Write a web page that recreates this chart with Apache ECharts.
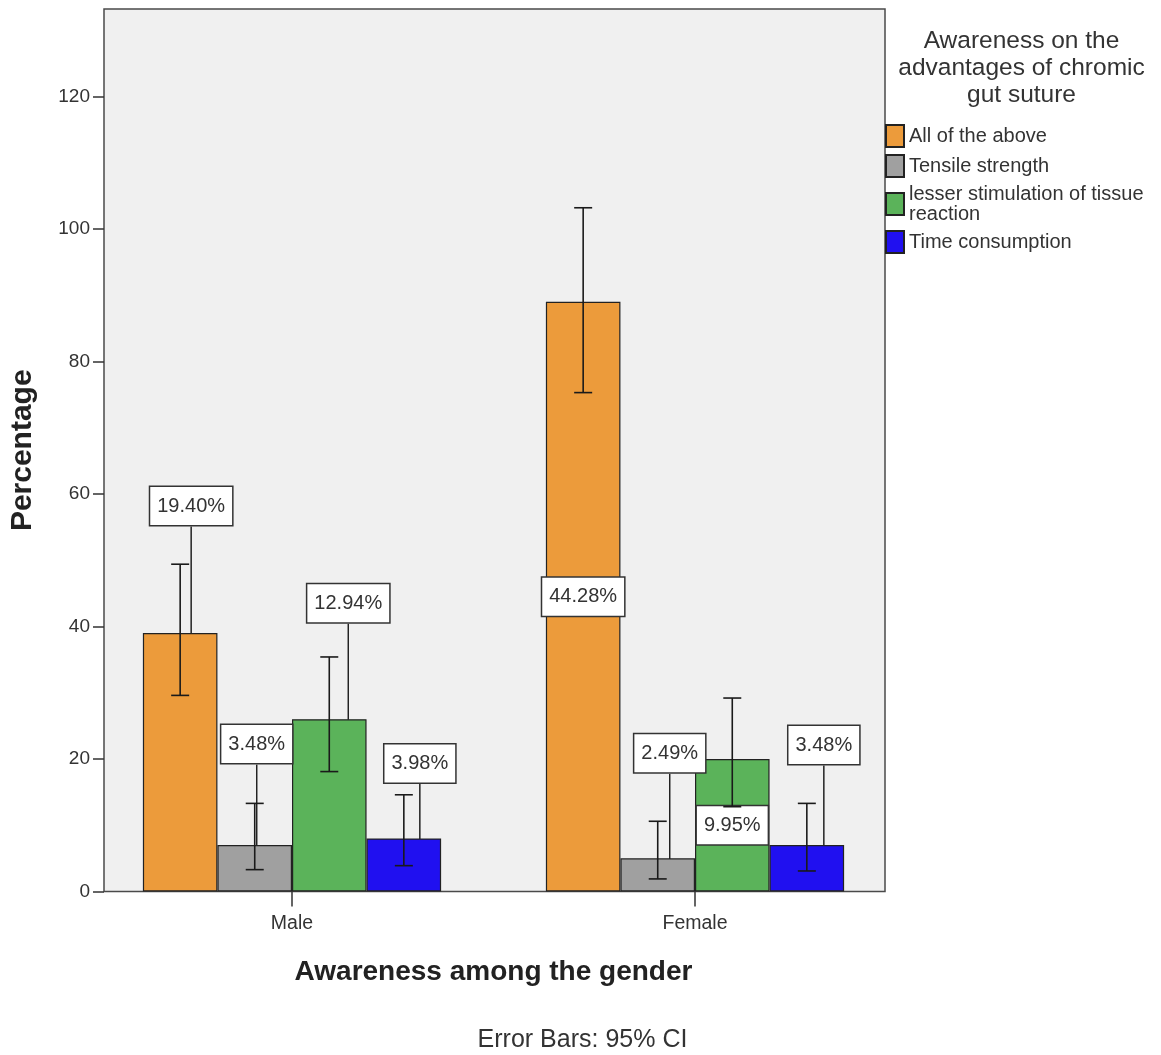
<!DOCTYPE html>
<html>
<head>
<meta charset="utf-8">
<title>Awareness among the gender</title>
<script src="https://cdn.jsdelivr.net/npm/echarts@6/dist/echarts.min.js"></script>
<style>
  html, body { margin: 0; padding: 0; background: #ffffff; }
  #chart { width: 1161px; height: 1055px; }
</style>
</head>
<body>
<div id="chart"></div>
<script>
// Groups on the x axis
const categories = ['Male', 'Female'];

// Answer options (legend order)
const seriesNames = [
  'All of the above',
  'Tensile strength',
  'lesser stimulation of tissue reaction',
  'Time consumption'
];

// Bar heights per group [Male, Female]
const allOfTheAbove    = [39, 89];
const tensileStrength  = [7, 5];
const lesserStimulation = [26, 20];
const timeConsumption  = [8, 7];

// 95% confidence interval bounds per group [Male, Female]
const allOfTheAboveCI    = [[29.6, 49.4], [75.3, 103.2]];
const tensileStrengthCI  = [[3.3, 13.3], [1.9, 10.6]];
const lesserStimulationCI = [[18.1, 35.4], [12.8, 29.2]];
const timeConsumptionCI  = [[3.9, 14.6], [3.1, 13.3]];

// Value axis tick labels
const yTicks = [0, 20, 40, 60, 80, 100, 120];

const seriesValues = [allOfTheAbove, tensileStrength, lesserStimulation, timeConsumption];
const seriesCI = [allOfTheAboveCI, tensileStrengthCI, lesserStimulationCI, timeConsumptionCI];
const colors = ['#EC9B3B', '#A0A0A0', '#5BB35A', '#2010F0'];

// Share of all respondents shown in each label
const grandTotal = seriesValues.flat().reduce((a, b) => a + b, 0);

// Label call-out placement: [dx, dy] in px from the bar's top centre; null keeps the label centred in the bar
const labelPlacement = [
  [[11, -127], null],
  [[2, -101], [12, -105]],
  [[19, -116], null],
  [[16, -75], [17, -100]]
];

const FONT = '"Liberation Sans", Arial, Helvetica, sans-serif';
const Y_MAX = 133.2;
const CATEGORY_GAP = 0.26;

const chart = echarts.init(document.getElementById('chart'), null, { renderer: 'canvas' });

const barSeries = seriesNames.map((name, s) => ({
  name: name,
  type: 'bar',
  xAxisIndex: 1,
  yAxisIndex: 1,
  barGap: '0%',
  barCategoryGap: (CATEGORY_GAP * 100) + '%',
  itemStyle: { color: colors[s], borderColor: '#222222', borderWidth: 1.2 },
  data: seriesValues[s].map((v, i) => ({
    value: v,
    labelLine: { show: !!labelPlacement[s][i] }
  })),
  label: {
    show: true,
    position: 'inside',
    formatter: p => (p.value / grandTotal * 100).toFixed(2) + '%',
    fontFamily: FONT,
    fontSize: 20,
    lineHeight: 20,
    color: '#333333',
    backgroundColor: '#ffffff',
    borderColor: '#333333',
    borderWidth: 1.5,
    padding: [9, 7, 9, 7]
  },
  labelLine: {
    show: true,
    lineStyle: { color: '#222222', width: 1.5 }
  },
  labelLayout: function (params) {
    const place = labelPlacement[s][params.dataIndex];
    if (!place) { return {}; }
    const r = params.rect;
    return {
      x: r.x + r.width / 2 + place[0],
      y: r.y + place[1],
      align: 'center',
      verticalAlign: 'middle'
    };
  },
  z: 2
}));

const errorSeries = seriesNames.map((name, s) => ({
  type: 'custom',
  xAxisIndex: 1,
  yAxisIndex: 1,
  silent: true,
  z: 5,
  data: seriesCI[s].map((ci, i) => [i, ci[0], ci[1]]),
  renderItem: function (params, api) {
    const ci = api.value(0);
    const band = api.size([1, 0])[0];
    const barW = band * (1 - CATEGORY_GAP) / seriesNames.length;
    const xc = api.coord([ci, 0])[0] + (s - (seriesNames.length - 1) / 2) * barW;
    const yLo = api.coord([ci, api.value(1)])[1];
    const yHi = api.coord([ci, api.value(2)])[1];
    const cap = 9;
    const style = { stroke: '#1a1a1a', lineWidth: 1.6 };
    return {
      type: 'group',
      children: [
        { type: 'line', shape: { x1: xc, y1: yLo, x2: xc, y2: yHi }, style: style },
        { type: 'line', shape: { x1: xc - cap, y1: yHi, x2: xc + cap, y2: yHi }, style: style },
        { type: 'line', shape: { x1: xc - cap, y1: yLo, x2: xc + cap, y2: yLo }, style: style }
      ]
    };
  }
}));

const option = {
  backgroundColor: '#ffffff',
  animation: false,
  textStyle: { fontFamily: FONT },
  grid: [
    // plot frame
    { left: 103, right: 276, top: 9, bottom: 163.5, show: true,
      backgroundColor: '#F0F0F0', borderColor: '#4a4a4a', borderWidth: 1.5, z: 0 },
    // bar area
    { left: 90.5, right: 264.5, top: 9, bottom: 163.5 }
  ],
  xAxis: [
    { gridIndex: 0, type: 'category', data: categories, show: false },
    {
      gridIndex: 1,
      type: 'category',
      data: categories,
      boundaryGap: true,
      axisLine: { show: false },
      axisTick: { show: true, alignWithLabel: true, length: 15,
        lineStyle: { color: '#333333', width: 1.5 } },
      axisLabel: { margin: 22, fontFamily: FONT, fontSize: 19.5, color: '#333333' },
      name: 'Awareness among the gender',
      nameLocation: 'middle',
      nameGap: 67,
      nameTextStyle: { fontFamily: FONT, fontSize: 28, fontWeight: 'bold', color: '#222222' }
    }
  ],
  yAxis: [
    {
      gridIndex: 0,
      type: 'value',
      min: 0,
      max: Y_MAX,
      interval: 20,
      axisLine: { show: false },
      splitLine: { show: false },
      axisTick: { show: true, length: 11, customValues: yTicks,
        lineStyle: { color: '#333333', width: 1.5 } },
      axisLabel: { margin: 14, fontFamily: FONT, fontSize: 19, color: '#333333',
        customValues: yTicks },
      name: 'Percentage',
      nameLocation: 'middle',
      nameGap: 66,
      nameTextStyle: { fontFamily: FONT, fontSize: 30, fontWeight: 'bold', color: '#222222' }
    },
    { gridIndex: 1, type: 'value', min: 0, max: Y_MAX, show: false, splitLine: { show: false } }
  ],
  legend: {
    orient: 'vertical',
    left: 885,
    top: 124,
    padding: 0,
    itemWidth: 18,
    itemHeight: 22,
    itemGap: 6,
    icon: 'rect',
    selectedMode: false,
    data: seriesNames,
    formatter: name => name === 'lesser stimulation of tissue reaction'
      ? 'lesser stimulation of tissue\nreaction' : name,
    textStyle: { fontFamily: FONT, fontSize: 20, lineHeight: 20, color: '#333333' }
  },
  graphic: [
    {
      type: 'text',
      x: 1021.5,
      y: 68,
      style: {
        text: 'Awareness on the\nadvantages of chromic\ngut suture',
        fontFamily: FONT,
        fontSize: 24.5,
        lineHeight: 27,
        fill: '#333333',
        align: 'center',
        verticalAlign: 'middle'
      }
    },
    {
      type: 'text',
      x: 582.5,
      y: 1040,
      style: {
        text: 'Error Bars: 95% CI',
        fontFamily: FONT,
        fontSize: 25,
        fill: '#333333',
        align: 'center',
        verticalAlign: 'middle'
      }
    }
  ],
  series: barSeries.concat(errorSeries)
};

chart.setOption(option);
</script>
</body>
</html>
